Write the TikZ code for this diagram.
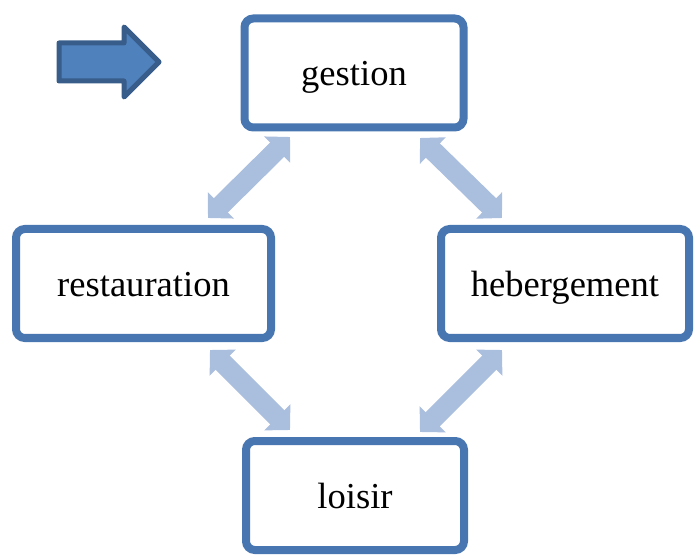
\documentclass[tikz,border=0pt]{standalone}
\usepackage{fontspec}
\setmainfont{Liberation Serif}
\usetikzlibrary{arrows.meta,shadows}

\definecolor{boxline}{RGB}{72,118,176}
\definecolor{linkblue}{RGB}{170,190,222}
\definecolor{pointerfill}{RGB}{79,129,189}
\definecolor{pointerline}{RGB}{56,93,138}

\tikzset{
  box/.style={draw=boxline, line width=8*0.025cm, fill=white, rounded corners=0.22cm,
    minimum height=109*0.025cm, font=\fontsize{26}{30}\selectfont,
    text height=20pt, text depth=2.2pt,
    drop shadow={opacity=0.25, shadow xshift=0.04cm, shadow yshift=-0.06cm}},
  link/.style={draw=linkblue, line width=20*0.025cm,
    {Triangle[width=36*0.025cm,length=18*0.025cm]}-{Triangle[width=36*0.025cm,length=18*0.025cm]}}
}

\begin{document}
\begin{tikzpicture}[x=0.025cm,y=-0.025cm]

\useasboundingbox (0,0) rectangle (697,557);

% pointer
\draw [fill=pointerfill, draw=pointerline, line width=5*0.025cm, line join=round]
  (59,43) -- (124,43) -- (124,27) -- (159,62) -- (124,97) -- (124,81) -- (59,81) -- cycle;

% boxes
\node [box, minimum width=219*0.025cm] (gestion) at (354,73) {gestion};
\node [box, minimum width=255*0.025cm] (restauration) at (143.5,283.5) {restauration};
\node [box, minimum width=248*0.025cm] (hebergement) at (565,283.5) {hebergement};
\node [box, minimum width=218*0.025cm] (loisir) at (355,495.5) {loisir};

% link ends
\coordinate (gesres) at (290,137);
\coordinate (resges) at (208,218);
\coordinate (gesheb) at (420,138);
\coordinate (hebges) at (502,218);
\coordinate (resloi) at (210,350);
\coordinate (loires) at (290,430);
\coordinate (hebloi) at (502,350);
\coordinate (loiheb) at (420,432);

\draw [link] (gesres) -- (resges);
\draw [link] (gesheb) -- (hebges);
\draw [link] (resloi) -- (loires);
\draw [link] (hebloi) -- (loiheb);

\end{tikzpicture}
\end{document}
